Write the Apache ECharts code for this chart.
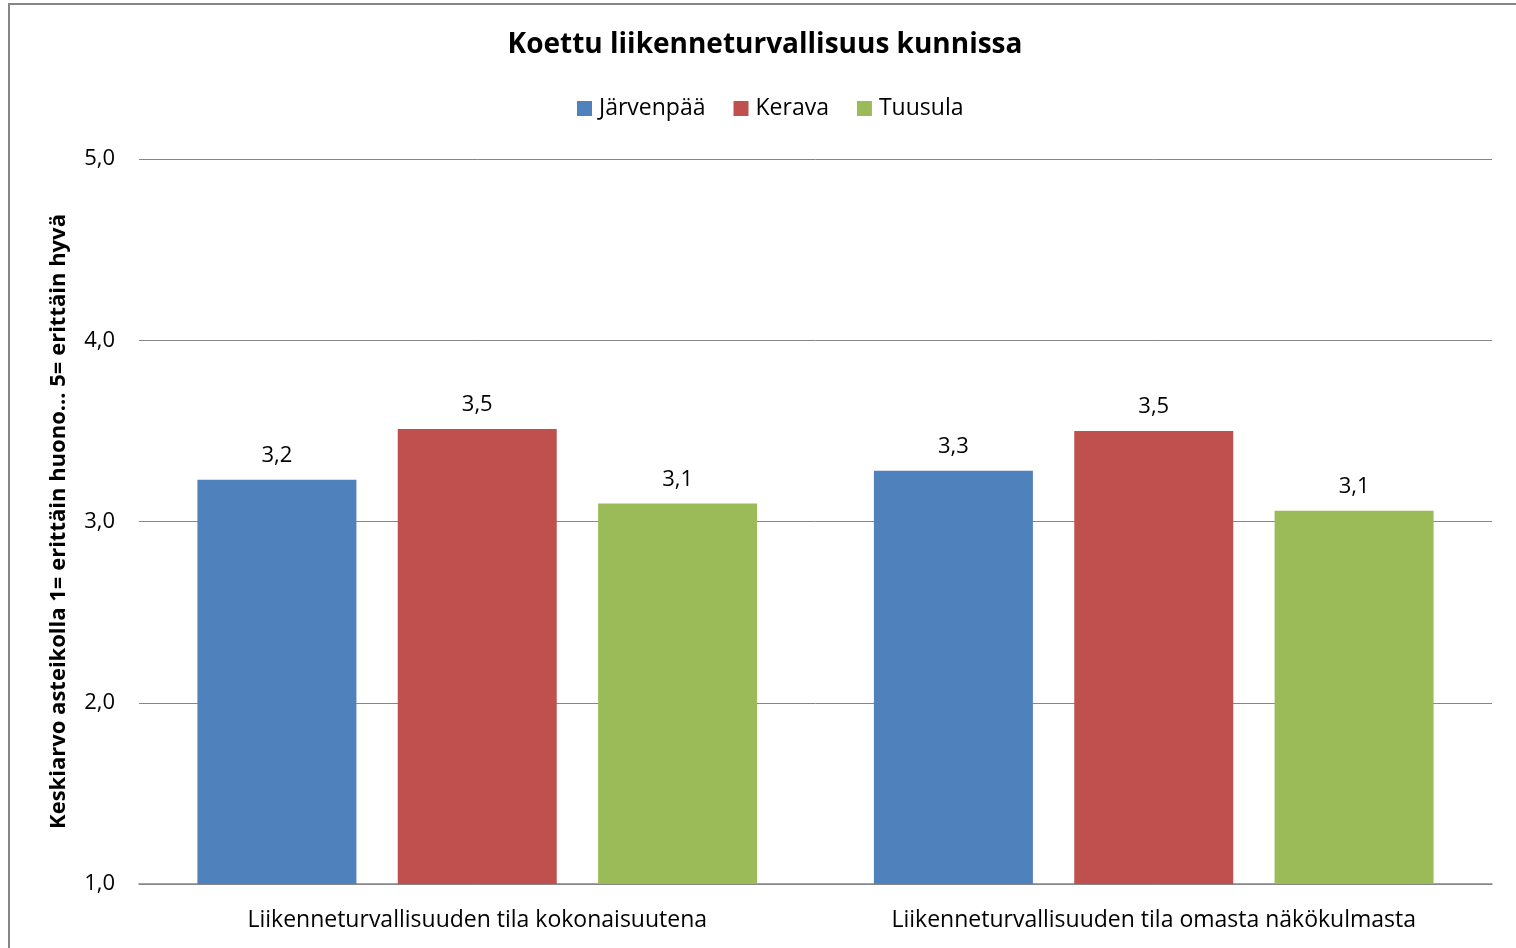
<!DOCTYPE html>
<html>
<head>
<meta charset="utf-8">
<script src="https://cdn.jsdelivr.net/npm/echarts@6/dist/echarts.min.js"></script>
<style>
  html, body { margin: 0; padding: 0; background: #fff; }
  #chart { width: 1516px; height: 948px; }
</style>
</head>
<body>
<div id="chart"></div>
<script>
const categories = [
  "Liikenneturvallisuuden tila kokonaisuutena",
  "Liikenneturvallisuuden tila omasta näkökulmasta",
];
const seriesNames = ["Järvenpää", "Kerava", "Tuusula"];
const jarvenpaa = [3.23, 3.28];
const kerava = [3.51, 3.5];
const tuusula = [3.1, 3.06];
const yTicks = [1, 2, 3, 4, 5];

const colors = ["#4F81BD", "#C0504D", "#9BBB59"];
const font = "'Open Sans', 'Noto Sans', sans-serif";

const chart = echarts.init(document.getElementById("chart"));

function makeSeries(name, data, color) {
  return {
    name: name,
    type: "bar",
    data: data,
    barWidth: 159,
    barGap: "26%",
    itemStyle: { color: color },
    label: {
      show: true,
      position: "top",
      distance: 13,
      color: "#000",
      fontFamily: font,
      fontSize: 22,
      formatter: (p) => p.value.toFixed(1).replace(".", ","),
    },
  };
}

const options = {
  animation: false,
  backgroundColor: "#fff",
  graphic: [
    {
      type: "rect",
      shape: { x: 9, y: 4, width: 1520, height: 960 },
      style: { fill: "none", stroke: "#868686", lineWidth: 2 },
      silent: true,
    },
  ],
  title: {
    text: "Koettu liikenneturvallisuus kunnissa",
    left: 760,
    textAlign: "center",
    top: 26,
    textStyle: {
      fontFamily: font,
      fontSize: 28,
      fontWeight: "bold",
      color: "#000",
    },
  },
  legend: {
    data: seriesNames,
    left: 572,
    top: 92,
    itemWidth: 15,
    itemHeight: 15,
    itemGap: 28,
    icon: "rect",
    textStyle: {
      fontFamily: font,
      fontSize: 23,
      color: "#000",
      padding: [0, 0, 0, 2],
    },
  },
  grid: {
    left: 139,
    right: 24,
    top: 159,
    bottom: 64,
    containLabel: false,
  },
  xAxis: {
    type: "category",
    data: categories,
    axisTick: { show: false },
    axisLine: { lineStyle: { color: "#868686", width: 1.5 } },
    axisLabel: {
      interval: 0,
      hideOverlap: false,
      fontFamily: font,
      fontSize: 23,
      color: "#000",
      margin: 25,
    },
  },
  yAxis: {
    type: "value",
    min: yTicks[0],
    max: yTicks[yTicks.length - 1],
    interval: 1,
    name: "Keskiarvo asteikolla 1= erittäin huono... 5= erittäin hyvä",
    nameLocation: "middle",
    nameGap: 69,
    nameTextStyle: {
      fontFamily: font,
      fontSize: 22,
      fontWeight: "bold",
      color: "#000",
    },
    axisLine: { show: false },
    axisTick: { show: false },
    splitLine: { lineStyle: { color: "#868686", width: 1 } },
    axisLabel: {
      fontFamily: font,
      fontSize: 22,
      color: "#000",
      margin: 24,
      formatter: (v) => v.toFixed(1).replace(".", ","),
    },
  },
  series: [
    makeSeries(seriesNames[0], jarvenpaa, colors[0]),
    makeSeries(seriesNames[1], kerava, colors[1]),
    makeSeries(seriesNames[2], tuusula, colors[2]),
  ],
};

chart.setOption(options);
</script>
</body>
</html>
